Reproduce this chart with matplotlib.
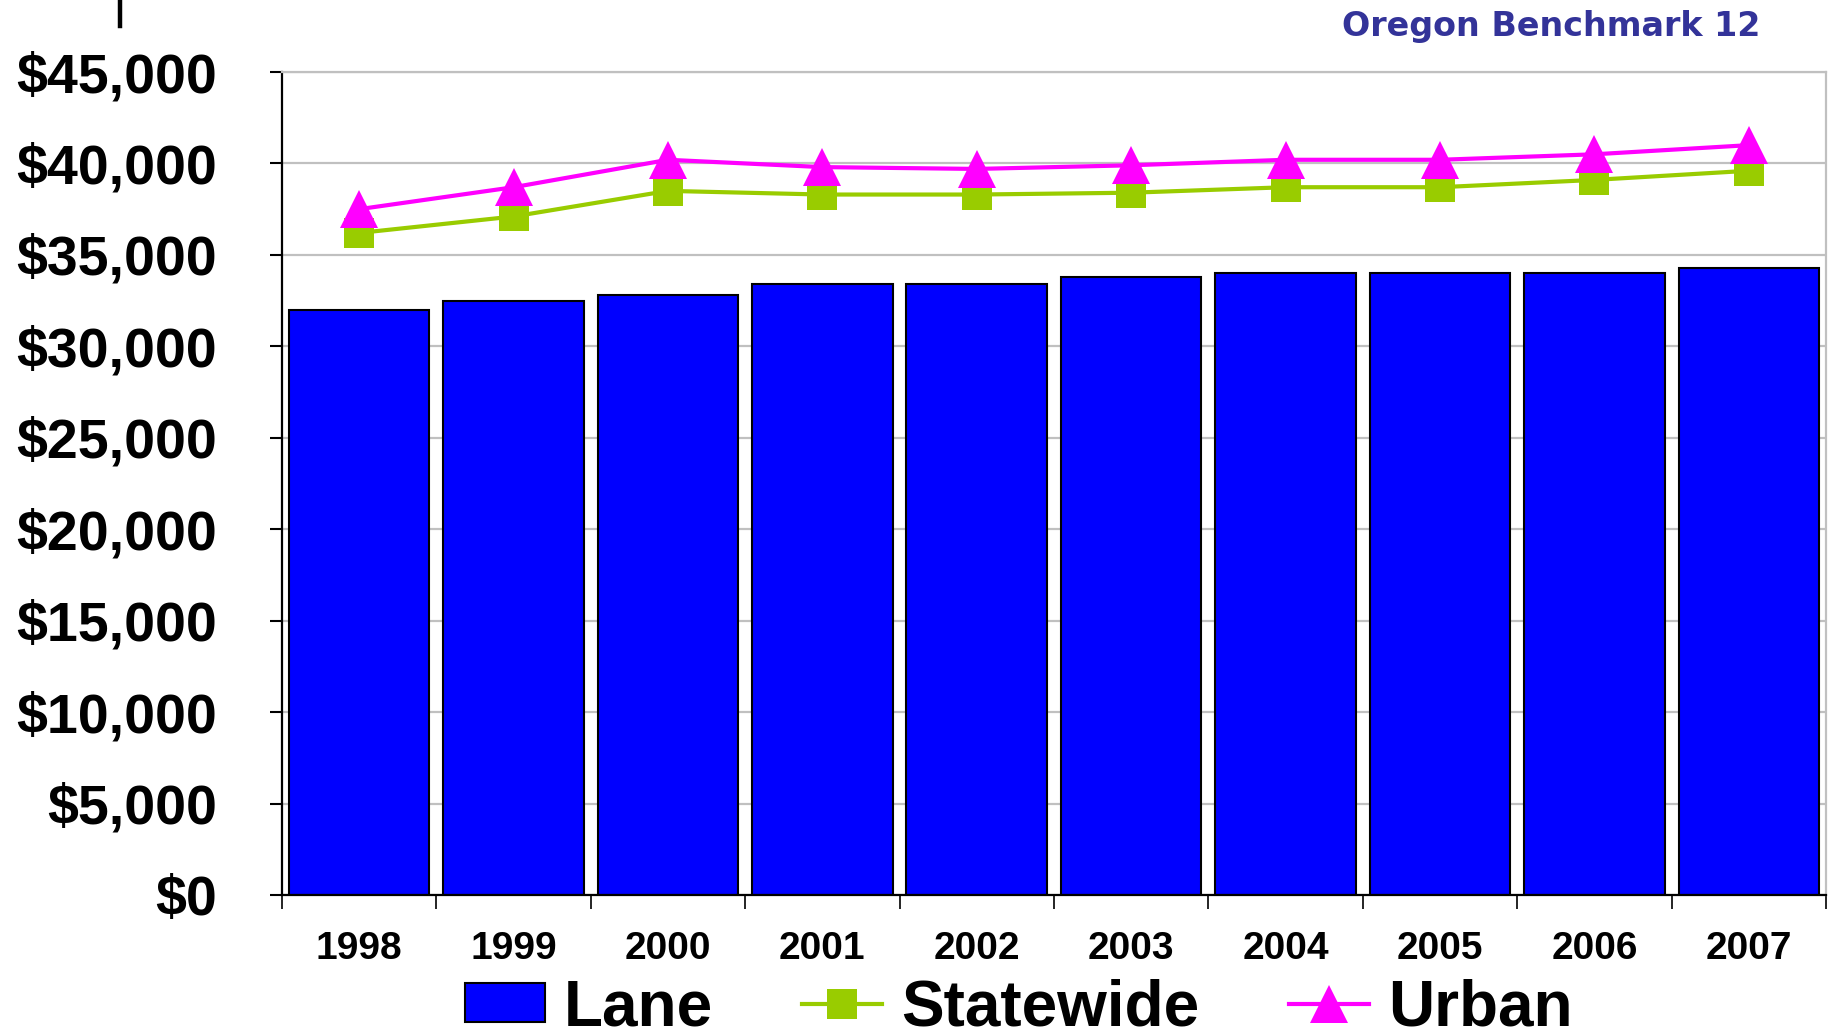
import matplotlib
matplotlib.use("Agg")
import matplotlib.pyplot as plt
from matplotlib.ticker import FuncFormatter, FixedLocator
from matplotlib.lines import Line2D
import numpy as np

years = ["1998", "1999", "2000", "2001", "2002", "2003", "2004", "2005", "2006", "2007"]
lane = [32000, 32500, 32800, 33400, 33400, 33800, 34000, 34000, 34000, 34300]
statewide = [36200, 37100, 38500, 38300, 38300, 38400, 38700, 38700, 39100, 39600]
urban = [37500, 38700, 40200, 39800, 39700, 39900, 40200, 40200, 40500, 41000]
y_ticks = [0, 5000, 10000, 15000, 20000, 25000, 30000, 35000, 40000, 45000]

plt.rcParams['font.family'] = ['Liberation Sans', 'DejaVu Sans']

fig = plt.figure(figsize=(18.32, 10.36), dpi=100)
ax = fig.add_axes([0.1539, 0.1361, 0.8428, 0.7944])

x = np.arange(len(years))
ax.set_axisbelow(True)
ax.yaxis.grid(True, color="#c0c0c0", linewidth=1.6)
h_lane = ax.bar(x, lane, width=0.91, color="#0000FF", edgecolor="black", linewidth=1.5,
                label="Lane", zorder=2)
h_state, = ax.plot(x, statewide, color="#99CC00", linewidth=3.0, marker="s", markersize=22,
                   markeredgewidth=0, label="Statewide", zorder=3)
h_urban, = ax.plot(x, urban, color="#FF00FF", linewidth=3.0, marker="^", markersize=27,
                   markeredgewidth=0, label="Urban", zorder=4)

ax.set_xlim(-0.5, len(years) - 0.5)
ax.set_ylim(0, 45000)
ax.set_yticks(y_ticks)
ax.yaxis.set_major_formatter(FuncFormatter(lambda v, p: "${:,.0f}".format(v)))
ax.tick_params(axis="y", direction="out", length=9, width=1.5, pad=38,
               labelsize=40)
for lbl in ax.get_yticklabels():
    lbl.set_fontweight("bold")

ax.set_xticks(x)
ax.set_xticklabels(years, fontsize=28, fontweight="bold")
ax.tick_params(axis="x", which="major", length=0, pad=26)
ax.xaxis.set_minor_locator(FixedLocator(np.arange(-0.5, len(years), 1.0)))
ax.tick_params(axis="x", which="minor", direction="out", length=10, width=1.2)

for s in ["left", "bottom"]:
    ax.spines[s].set_color("black")
    ax.spines[s].set_linewidth(1.6)
for s in ["top", "right"]:
    ax.spines[s].set_color("#c0c0c0")
    ax.spines[s].set_linewidth(1.6)

fig.text(0.9607, 0.974, "Oregon Benchmark 12", ha="right", va="center",
         fontsize=24, fontweight="bold", color="#333399", family="DejaVu Sans")

fig.add_artist(Line2D([0.0655, 0.0655], [0.975, 1.0], color="black", linewidth=3.2,
                      transform=fig.transFigure))

leg = fig.legend(handles=[h_lane, h_state, h_urban], labels=["Lane", "Statewide", "Urban"],
                 loc="center", bbox_to_anchor=(0.556, 0.027), ncol=3, frameon=False,
                 prop={"size": 46, "weight": "bold"}, handlelength=1.25,
                 handleheight=0.55, handletextpad=0.3, columnspacing=1.4,
                 borderpad=0, borderaxespad=0)

fig.savefig("out.png", dpi=100)
